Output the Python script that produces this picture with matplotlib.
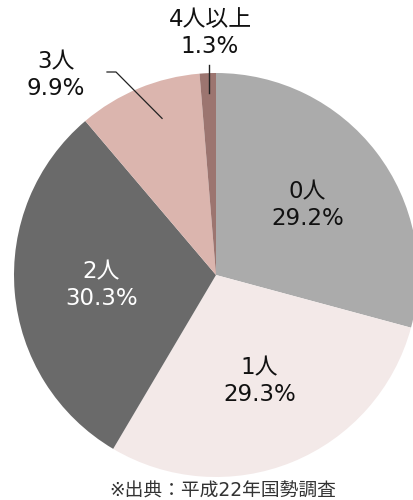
import numpy as np
import matplotlib.pyplot as plt

plt.rcParams['font.family'] = ['DejaVu Sans', 'Noto Sans CJK JP']

categories = ['0人', '1人', '2人', '3人', '4人以上']
shares = [29.2, 29.3, 30.3, 9.9, 1.3]
colors = ['#ababab', '#f3e9e8', '#6a6a6a', '#dbb5ae', '#9c7570']
text_colors = ['#111111', '#111111', '#ffffff', '#111111', '#111111']
source = '※出典：平成22年国勢調査'

fig = plt.figure(figsize=(4.14, 5.00), dpi=100)
ax = fig.add_axes([0, 0, 1, 1])

cx, cy, r = 216, 225, 202
wedges, _ = ax.pie(shares, colors=colors, startangle=90, counterclock=False,
                   center=(cx, cy), radius=r, frame=True)
ax.set_xlim(0, 414)
ax.set_ylim(0, 500)
ax.axis('off')

def label(cat, val):
    return f'{cat}\n{val:.1f}%'

# inside labels
for w, cat, val, tc in zip(wedges[:3], categories[:3], shares[:3], text_colors[:3]):
    mid = np.deg2rad((w.theta1 + w.theta2) / 2)
    x = cx + 0.57 * r * np.cos(mid)
    y = cy + 0.57 * r * np.sin(mid)
    ax.text(x, y, label(cat, val), ha='center', va='center', fontsize=16.5,
            color=tc, linespacing=1.2)

# outside labels with leader lines
w = wedges[3]
mid = np.deg2rad((w.theta1 + w.theta2) / 2 - 3.5)
px, py = cx + 0.82 * r * np.cos(mid), cy + 0.82 * r * np.sin(mid)
ax.plot([107, 116, px], [428, 428, py], color='#222222', lw=0.9)
ax.text(56, 425, label(categories[3], shares[3]), ha='center', va='center',
        fontsize=16.5, color=text_colors[3], linespacing=1.2)

w = wedges[4]
mid = np.deg2rad((w.theta1 + w.theta2) / 2)
px, py = cx + 0.9 * r * np.cos(mid), cy + 0.9 * r * np.sin(mid)
ax.plot([px, px], [435, py], color='#222222', lw=1.0)
ax.text(210, 467, label(categories[4], shares[4]), ha='center', va='center',
        fontsize=16.5, color=text_colors[4], linespacing=1.2)

ax.text(223, 9, source, ha='center', va='center', fontsize=13.5, color='#333333')

fig.savefig('out.png', dpi=100)
